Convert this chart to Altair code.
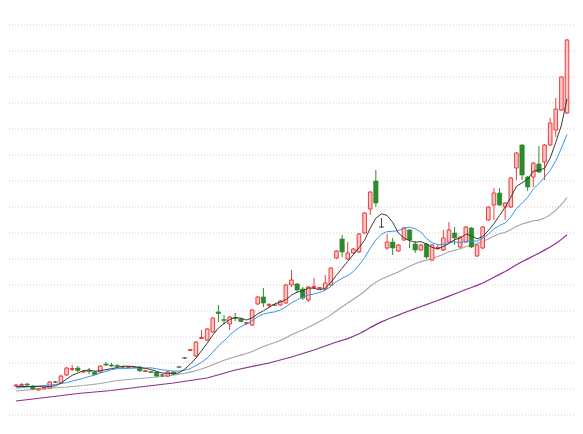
import altair as alt
import pandas as pd

# ---- candle data ----
opens = [5.4, 5.45, 5.6, 5.4, 5.0, 5.1, 5.2, 5.8, 5.7, 6.5,
         7.05, 7.2, 6.8, 6.95, 6.8, 6.8, 7.6, 7.5, 7.45, 7.3,
         7.25, 7.3, 7.3, 6.85, 6.85, 6.8, 6.5, 6.4, 6.8, 7.3,
         8.2, 8.95, 8.4, 10.15, 10.0, 10.8, 12.8, 12.05, 11.6, 12.25,
         12.1, 11.65, 11.5, 13.6, 14.3, 13.45, 13.5, 13.5, 13.7, 15.5,
         15.6, 15.1, 14.0, 15.25, 15.15, 15.1, 15.5, 18.2, 20.1, 18.1,
         18.7, 18.8, 20.7, 23.1, 25.9, 21.3, 19.2, 19.8, 18.9, 20.0,
         21.0, 19.6, 19.0, 19.6, 18.0, 19.15, 19.0, 19.8, 20.7, 19.3,
         19.8, 21.2, 18.4, 19.2, 22.0, 23.5, 24.7, 23.3, 23.3, 27.2,
         29.5, 26.3, 26.3, 27.6, 27.8, 29.5, 31.0, 33.0, 32.7]
closes = [5.5, 5.55, 5.5, 5.1, 5.15, 5.25, 5.8, 5.8, 6.4, 7.2,
          7.15, 6.95, 6.9, 6.85, 6.55, 7.4, 7.5, 7.4, 7.35, 7.3,
          7.35, 7.3, 6.9, 6.95, 6.75, 6.4, 6.5, 6.8, 6.6, 7.3,
          8.2, 9.05, 9.8, 10.25, 11.1, 12.2, 12.65, 11.95, 12.3, 12.15,
          11.85, 11.75, 13.0, 14.3, 13.7, 13.55, 13.5, 13.9, 15.5, 16.0,
          15.0, 14.2, 15.3, 15.35, 15.25, 15.7, 17.2, 18.9, 18.8, 18.7,
          19.1, 20.6, 22.7, 24.8, 23.7, 21.3, 19.8, 19.2, 19.5, 21.2,
          20.0, 19.0, 19.5, 18.3, 19.5, 19.25, 20.2, 21.0, 20.2, 20.3,
          21.3, 19.3, 19.5, 21.3, 23.3, 24.7, 23.5, 23.7, 26.2, 28.7,
          26.5, 25.3, 27.7, 26.8, 29.5, 31.7, 33.1, 36.3, 40.0]
highs = [5.6, 5.7, 5.7, 5.5, 5.2, 5.3, 5.9, 5.9, 6.5, 7.3,
         7.5, 7.4, 7.0, 7.2, 6.9, 7.5, 7.8, 7.7, 7.6, 7.4,
         7.4, 7.4, 7.4, 7.0, 6.9, 6.9, 6.6, 6.9, 6.9, 7.4,
         8.3, 9.1, 9.9, 11.0, 11.2, 12.3, 13.5, 12.5, 12.4, 12.7,
         12.2, 11.8, 13.1, 14.4, 15.2, 13.7, 13.6, 14.0, 15.6, 17.0,
         15.7, 15.3, 15.4, 16.2, 15.3, 16.5, 17.3, 19.0, 20.5, 19.8,
         19.2, 20.7, 22.8, 24.9, 27.0, 22.2, 20.6, 20.2, 19.6, 21.3,
         21.1, 19.9, 19.6, 19.7, 19.6, 19.5, 21.0, 21.8, 21.3, 20.4,
         21.4, 21.3, 19.6, 21.4, 23.4, 25.2, 25.2, 23.8, 26.3, 28.8,
         29.6, 26.4, 27.8, 29.4, 29.6, 32.2, 34.2, 36.4, 40.1]
lows = [5.3, 5.4, 5.4, 5.0, 4.9, 5.05, 5.1, 5.7, 5.6, 6.4,
        6.9, 6.8, 6.7, 6.6, 6.5, 6.7, 7.4, 7.3, 7.2, 7.2,
        7.2, 7.2, 6.85, 6.8, 6.7, 6.3, 6.3, 6.3, 6.5, 7.2,
        8.1, 8.9, 8.3, 10.1, 9.9, 10.7, 11.8, 11.6, 11.0, 11.9,
        11.8, 11.5, 11.4, 13.5, 13.3, 13.2, 13.4, 13.4, 13.6, 15.3,
        14.8, 14.0, 13.8, 15.2, 15.1, 15.0, 15.4, 18.1, 18.3, 18.0,
        18.6, 18.7, 20.6, 22.5, 23.3, 21.2, 19.0, 18.5, 18.8, 19.9,
        19.2, 18.7, 18.9, 18.1, 17.9, 19.0, 18.9, 19.7, 19.5, 19.2,
        19.7, 19.2, 18.3, 19.1, 21.9, 22.0, 23.4, 22.0, 23.2, 26.0,
        26.0, 24.9, 25.3, 26.7, 26.0, 29.4, 30.3, 32.9, 32.6]

# ---- moving-average lines ----
ma5 = [5.35, 5.35, 5.35, 5.35, 5.36, 5.31, 5.36, 5.42, 5.68, 6.09,
       6.47, 6.70, 6.92, 7.01, 6.88, 6.93, 7.04, 7.14, 7.24, 7.39,
       7.38, 7.34, 7.24, 7.16, 7.05, 6.86, 6.70, 6.68, 6.61, 6.72,
       7.08, 7.59, 8.19, 8.92, 9.68, 10.48, 11.20, 11.63, 12.04, 12.25,
       12.18, 12.00, 12.21, 12.61, 12.92, 13.26, 13.61, 13.79, 14.03, 14.49,
       14.78, 14.92, 15.20, 15.17, 15.02, 15.16, 15.76, 16.48, 17.17, 17.86,
       18.54, 19.22, 19.98, 21.18, 22.18, 22.62, 22.46, 21.76, 20.70, 20.20,
       19.94, 19.78, 19.84, 19.60, 19.26, 19.11, 19.35, 19.65, 20.03, 20.19,
       20.60, 20.42, 20.12, 20.34, 20.94, 21.62, 22.46, 23.30, 24.28, 25.36,
       25.72, 26.08, 26.88, 27.00, 27.16, 28.20, 29.76, 31.48, 34.12]
ma10 = [5.2, 5.25, 5.3, 5.35, 5.4, 5.45, 5.5, 5.55, 5.65, 5.73,
        5.89, 6.03, 6.17, 6.35, 6.49, 6.70, 6.87, 7.03, 7.13, 7.14,
        7.16, 7.19, 7.19, 7.20, 7.22, 7.12, 7.02, 6.96, 6.89, 6.89,
        6.97, 7.15, 7.44, 7.77, 8.20, 8.78, 9.40, 9.91, 10.48, 10.97,
        11.33, 11.60, 11.92, 12.33, 12.59, 12.72, 12.81, 13.00, 13.32, 13.71,
        14.02, 14.27, 14.50, 14.60, 14.76, 14.97, 15.34, 15.84, 16.17, 16.44,
        16.85, 17.49, 18.23, 19.18, 20.02, 20.58, 20.84, 20.87, 20.94, 21.19,
        21.28, 21.12, 20.80, 20.15, 19.73, 19.53, 19.57, 19.75, 19.82, 19.73,
        19.86, 19.89, 19.89, 20.19, 20.57, 21.11, 21.44, 21.71, 22.31, 23.15,
        23.67, 24.27, 25.09, 25.64, 26.26, 26.96, 27.92, 29.18, 30.56]
ma30_idx = [0, 3, 6, 9, 12, 15, 18, 21, 24, 27] + list(range(29, 99))
ma30 = [4.9, 5.05, 5.2, 5.3, 5.45, 5.65, 5.95, 6.1, 6.25, 6.4,
        6.58, 6.67, 6.79, 6.93, 7.10, 7.30, 7.53, 7.76, 7.97, 8.16,
        8.33, 8.49, 8.65, 8.85, 9.10, 9.34, 9.54, 9.74, 9.96, 10.23,
        10.52, 10.77, 11.00, 11.28, 11.56, 11.85, 12.16, 12.51, 12.92, 13.32,
        13.70, 14.07, 14.45, 14.88, 15.37, 15.79, 16.09, 16.33, 16.57, 16.81,
        17.11, 17.38, 17.63, 17.84, 17.98, 18.17, 18.36, 18.58, 18.82, 18.98,
        19.12, 19.33, 19.50, 19.64, 19.84, 20.11, 20.41, 20.62, 20.78, 21.02,
        21.36, 21.60, 21.76, 21.93, 21.99, 22.19, 22.53, 22.98, 23.55, 24.23]
ma60_idx = [0, 6, 11, 17, 22, 28, 34, 39, 45, 49, 53, 57] + list(range(59, 99))
ma60 = [3.9, 4.3, 4.65, 4.95, 5.3, 5.7, 6.2, 7.0, 7.7, 8.3, 9.0, 9.8,
        10.14, 10.37, 10.62, 10.91, 11.24, 11.54, 11.81, 12.05, 12.27, 12.49,
        12.72, 12.93, 13.14, 13.35, 13.54, 13.75, 13.95, 14.16, 14.39, 14.60,
        14.82, 15.05, 15.25, 15.46, 15.70, 15.98, 16.28, 16.56, 16.85, 17.17,
        17.53, 17.83, 18.11, 18.40, 18.68, 18.99, 19.31, 19.65, 20.06, 20.52]

grid_vals = [41.5, 38.9, 36.3, 33.7, 31.1, 28.5, 25.9, 23.3,
             20.7, 18.1, 15.5, 12.9, 10.3, 7.7, 5.1, 2.5]

RED = "#ee3d3d"
PINK = "#fdc6c6"
GREEN = "#2c8a2c"
DARK = "#444444"

n = len(opens)
candles = pd.DataFrame({"i": list(range(n)), "open": opens, "close": closes,
                        "high": highs, "low": lows})

xs = alt.Scale(domain=[-0.35, 98.35], nice=False, zero=False)
ys = alt.Scale(domain=[1.4, 43.2], nice=False, zero=False)
X = alt.X("i:Q", scale=xs, axis=None)


def cbase(expr):
    return alt.Chart(candles).transform_calculate(
        dir="datum.close > datum.open ? 'up' : (datum.close < datum.open ? 'down' : 'flat')"
    ).transform_filter(expr)


grid = alt.Chart(pd.DataFrame({"g": grid_vals})).mark_rule(
    color="#cccccc", strokeDash=[1, 2], strokeWidth=1
).encode(y=alt.Y("g:Q", scale=ys, axis=None))


def ma_layer(idx, vals, color, width=1.0):
    df = pd.DataFrame({"i": idx, "v": vals})
    return alt.Chart(df).mark_line(color=color, strokeWidth=width, clip=True).encode(
        x=X, y=alt.Y("v:Q", scale=ys, axis=None)
    )


layers = [grid,
          ma_layer(ma60_idx, ma60, "#8e2d8e", 1.2),
          ma_layer(ma30_idx, ma30, "#a3a3a3", 1.1)]

for d, col in [("up", RED), ("down", GREEN), ("flat", DARK)]:
    layers.append(
        cbase(f"datum.dir == '{d}'").mark_rule(color=col, strokeWidth=1).encode(
            x=X, y=alt.Y("low:Q", scale=ys, axis=None), y2="high:Q")
    )

layers.append(
    cbase("datum.dir == 'up'").mark_bar(size=3.6, fill=PINK, stroke=RED, strokeWidth=1).encode(
        x=X, y=alt.Y("open:Q", scale=ys, axis=None), y2="close:Q")
)
layers.append(
    cbase("datum.dir == 'down'").mark_bar(size=4.4, fill=GREEN, stroke=GREEN, strokeWidth=0.6).encode(
        x=X, y=alt.Y("open:Q", scale=ys, axis=None), y2="close:Q")
)
layers.append(
    cbase("datum.dir == 'flat'").mark_rule(color=DARK, strokeWidth=1, xOffset=-2.5, x2Offset=2.5).encode(
        x=X, x2="i:Q", y=alt.Y("close:Q", scale=ys, axis=None))
)

layers.append(ma_layer(list(range(n)), ma10, "#3b95e4", 1.0))
layers.append(ma_layer(list(range(n)), ma5, "#3a3a3a", 1.0))

chart = alt.layer(*layers).properties(
    width=567, height=418, padding=0,
    autosize=alt.AutoSizeParams(type="fit", contains="padding"),
    background="#ffffff",
).configure_view(stroke=None)

chart.save("out.html", embed_options={"renderer": "svg", "actions": False})
